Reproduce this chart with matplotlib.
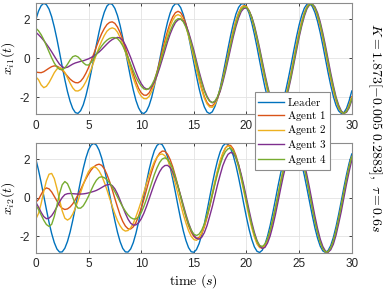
import numpy as np
import matplotlib
matplotlib.use('Agg')
import matplotlib.pyplot as plt

plt.rcParams['font.family'] = ['Liberation Sans', 'DejaVu Sans']
plt.rcParams['mathtext.fontset'] = 'cm'
plt.rcParams['axes.unicode_minus'] = False

# time grid, 0.25 s steps
t = np.arange(0, 30.001, 0.25)

# state 1 (top panel)
leader_x1 = [2.00, 2.43, 2.71, 2.83, 2.76, 2.53, 2.14, 1.61,
             0.99, 0.30, -0.41, -1.09, -1.70, -2.20, -2.57, -2.78,
             -2.82, -2.68, -2.38, -1.92, -1.35, -0.69, 0.01, 0.71,
             1.36, 1.93, 2.38, 2.69, 2.82, 2.78, 2.57, 2.20,
             1.69, 1.07, 0.39, -0.31, -1.00, -1.62, -2.15, -2.53,
             -2.77, -2.83, -2.71, -2.42, -1.99, -1.42, -0.78, -0.09,
             0.61, 1.28, 1.86, 2.33, 2.66, 2.81, 2.80, 2.61,
             2.25, 1.76, 1.16, 0.48, -0.22, -0.91, -1.54, -2.08,
             -2.49, -2.75, -2.83, -2.74, -2.47, -2.06, -1.51, -0.87,
             -0.18, 0.52, 1.19, 1.79, 2.28, 2.62, 2.80, 2.81,
             2.64, 2.31, 1.83, 1.24, 0.58, -0.13, -0.82, -1.47,
             -2.02, -2.45, -2.72, -2.83, -2.76, -2.52, -2.12, -1.59,
             -0.96, -0.28, 0.43, 1.11, 1.72, 2.22, 2.59, 2.79,
             2.82, 2.67, 2.36, 1.90, 1.33, 0.67, -0.03, -0.73,
             -1.38, -1.95, -2.40, -2.69, -2.82, -2.78, -2.56, -2.17,
             -1.67]
agent1_x1 = [-0.70, -0.72, -0.73, -0.68, -0.59, -0.50, -0.42, -0.38,
             -0.40, -0.47, -0.60, -0.75, -0.91, -1.06, -1.17, -1.24,
             -1.25, -1.17, -1.00, -0.76, -0.47, -0.13, 0.24, 0.61,
             0.96, 1.28, 1.54, 1.74, 1.85, 1.88, 1.80, 1.61,
             1.33, 0.96, 0.54, 0.08, -0.38, -0.82, -1.19, -1.53,
             -1.76, -1.88, -1.89, -1.77, -1.52, -1.15, -0.69, -0.18,
             0.37, 0.91, 1.40, 1.82, 2.14, 2.35, 2.42, 2.35,
             2.12, 1.77, 1.30, 0.76, 0.17, -0.44, -1.02, -1.53,
             -1.96, -2.26, -2.42, -2.44, -2.29, -2.01, -1.58, -1.03,
             -0.44, 0.20, 0.83, 1.43, 1.95, 2.34, 2.61, 2.72,
             2.67, 2.45, 2.08, 1.57, 0.98, 0.32, -0.38, -1.04,
             -1.63, -2.14, -2.51, -2.73, -2.78, -2.65, -2.36, -1.92,
             -1.35, -0.71, -0.01, 0.69, 1.34, 1.90, 2.35, 2.66,
             2.81, 2.76, 2.55, 2.18, 1.67, 1.05, 0.37, -0.33,
             -1.02, -1.64, -2.15, -2.53, -2.76, -2.82, -2.70, -2.40,
             -1.96]
agent2_x1 = [-0.95, -1.09, -1.36, -1.50, -1.43, -1.24, -0.99, -0.73,
             -0.54, -0.47, -0.54, -0.72, -0.99, -1.27, -1.51, -1.66,
             -1.67, -1.60, -1.43, -1.19, -0.89, -0.55, -0.17, 0.21,
             0.58, 0.90, 1.18, 1.40, 1.52, 1.57, 1.52, 1.35,
             1.08, 0.73, 0.33, -0.12, -0.57, -1.01, -1.39, -1.72,
             -1.94, -2.06, -2.07, -1.95, -1.69, -1.33, -0.86, -0.36,
             0.19, 0.73, 1.23, 1.65, 1.97, 2.18, 2.25, 2.18,
             1.96, 1.62, 1.16, 0.62, 0.04, -0.55, -1.12, -1.62,
             -2.04, -2.33, -2.49, -2.51, -2.36, -2.07, -1.64, -1.09,
             -0.49, 0.15, 0.79, 1.40, 1.92, 2.31, 2.59, 2.70,
             2.65, 2.43, 2.06, 1.55, 0.96, 0.31, -0.39, -1.04,
             -1.63, -2.14, -2.51, -2.73, -2.79, -2.67, -2.38, -1.95,
             -1.38, -0.74, -0.04, 0.66, 1.31, 1.88, 2.33, 2.65,
             2.80, 2.77, 2.57, 2.21, 1.70, 1.09, 0.41, -0.29,
             -0.98, -1.61, -2.12, -2.51, -2.75, -2.82, -2.72, -2.43,
             -2.00]
agent3_x1 = [1.34, 1.22, 1.08, 0.92, 0.74, 0.55, 0.34, 0.12,
             -0.10, -0.30, -0.43, -0.48, -0.45, -0.37, -0.29, -0.23,
             -0.19, -0.15, -0.12, -0.07, -0.02, 0.05, 0.13, 0.22,
             0.33, 0.46, 0.60, 0.74, 0.87, 0.97, 1.04, 1.08,
             1.05, 0.92, 0.69, 0.38, 0.05, -0.32, -0.69, -1.02,
             -1.29, -1.48, -1.57, -1.56, -1.44, -1.21, -0.88, -0.49,
             -0.05, 0.40, 0.85, 1.25, 1.58, 1.84, 1.98, 2.02,
             1.92, 1.70, 1.35, 0.90, 0.42, -0.13, -0.67, -1.16,
             -1.61, -1.94, -2.17, -2.27, -2.22, -2.02, -1.69, -1.22,
             -0.68, -0.08, 0.53, 1.12, 1.64, 2.08, 2.41, 2.57,
             2.59, 2.44, 2.14, 1.70, 1.13, 0.52, -0.14, -0.80,
             -1.41, -1.95, -2.35, -2.63, -2.75, -2.69, -2.47, -2.09,
             -1.57, -0.96, -0.28, 0.41, 1.09, 1.68, 2.18, 2.56,
             2.76, 2.79, 2.65, 2.34, 1.88, 1.30, 0.65, -0.05,
             -0.75, -1.39, -1.97, -2.39, -2.69, -2.82, -2.76, -2.54,
             -2.15]
agent4_x1 = [1.55, 1.42, 1.22, 0.96, 0.66, 0.34, 0.03, -0.24,
             -0.44, -0.56, -0.58, -0.49, -0.30, -0.08, 0.09, 0.14,
             0.08, -0.06, -0.22, -0.33, -0.34, -0.20, 0.00, 0.22,
             0.44, 0.64, 0.81, 0.94, 1.03, 1.07, 1.07, 1.02,
             0.87, 0.65, 0.36, 0.05, -0.29, -0.64, -0.95, -1.21,
             -1.42, -1.56, -1.60, -1.54, -1.37, -1.10, -0.73, -0.33,
             0.13, 0.59, 1.02, 1.40, 1.72, 1.94, 2.04, 2.03,
             1.88, 1.61, 1.24, 0.77, 0.27, -0.27, -0.80, -1.27,
             -1.68, -2.00, -2.20, -2.27, -2.19, -1.96, -1.60, -1.10,
             -0.55, 0.07, 0.69, 1.27, 1.78, 2.21, 2.50, 2.64,
             2.62, 2.44, 2.10, 1.63, 1.05, 0.42, -0.26, -0.92,
             -1.50, -2.02, -2.42, -2.68, -2.76, -2.67, -2.42, -2.01,
             -1.46, -0.84, -0.15, 0.55, 1.20, 1.77, 2.27, 2.61,
             2.78, 2.78, 2.60, 2.26, 1.78, 1.17, 0.51, -0.20,
             -0.89, -1.50, -2.04, -2.47, -2.73, -2.82, -2.73, -2.48,
             -2.06]

# state 2 (bottom panel)
leader_x2 = [2.00, 1.44, 0.80, 0.10, -0.60, -1.27, -1.85, -2.32,
             -2.65, -2.81, -2.80, -2.61, -2.26, -1.77, -1.17, -0.50,
             0.21, 0.90, 1.53, 2.07, 2.49, 2.74, 2.83, 2.74,
             2.48, 2.07, 1.52, 0.89, 0.19, -0.51, -1.18, -1.78,
             -2.27, -2.62, -2.80, -2.81, -2.65, -2.32, -1.84, -1.26,
             -0.59, 0.12, 0.81, 1.46, 2.01, 2.45, 2.72, 2.83,
             2.76, 2.52, 2.13, 1.60, 0.97, 0.29, -0.42, -1.10,
             -1.71, -2.21, -2.58, -2.79, -2.82, -2.68, -2.37, -1.91,
             -1.34, -0.68, 0.02, 0.72, 1.37, 1.94, 2.39, 2.69,
             2.82, 2.78, 2.56, 2.19, 1.68, 1.06, 0.38, -0.33,
             -1.01, -1.63, -2.15, -2.54, -2.77, -2.83, -2.71, -2.42,
             -1.98, -1.42, -0.77, -0.08, 0.63, 1.29, 1.88, 2.34,
             2.66, 2.81, 2.80, 2.60, 2.25, 1.75, 1.15, 0.47,
             -0.23, -0.92, -1.56, -2.09, -2.50, -2.75, -2.83, -2.73,
             -2.47, -2.05, -1.50, -0.86, -0.17, 0.54, 1.21, 1.81,
             2.28]
agent1_x2 = [-0.22, -0.08, 0.18, 0.42, 0.52, 0.47, 0.31, 0.08,
             -0.16, -0.39, -0.54, -0.60, -0.57, -0.47, -0.31, -0.09,
             0.16, 0.43, 0.72, 0.99, 1.24, 1.45, 1.61, 1.71,
             1.75, 1.69, 1.51, 1.22, 0.85, 0.43, -0.03, -0.47,
             -0.89, -1.22, -1.46, -1.60, -1.61, -1.50, -1.28, -0.95,
             -0.54, -0.09, 0.41, 0.91, 1.36, 1.77, 2.10, 2.32,
             2.43, 2.42, 2.27, 1.99, 1.61, 1.13, 0.61, 0.06,
             -0.49, -1.00, -1.44, -1.77, -2.00, -2.10, -2.05, -1.85,
             -1.50, -1.03, -0.48, 0.14, 0.76, 1.35, 1.85, 2.30,
             2.59, 2.74, 2.72, 2.54, 2.20, 1.72, 1.13, 0.48,
             -0.18, -0.85, -1.44, -1.94, -2.31, -2.53, -2.58, -2.46,
             -2.18, -1.75, -1.17, -0.57, 0.11, 0.79, 1.41, 1.97,
             2.38, 2.68, 2.80, 2.74, 2.51, 2.10, 1.56, 0.92,
             0.21, -0.51, -1.20, -1.78, -2.30, -2.64, -2.80, -2.79,
             -2.59, -2.23, -1.72, -1.10, -0.42, 0.29, 0.99, 1.62,
             2.15]
agent2_x2 = [-1.09, -0.81, -0.29, 0.34, 0.89, 1.23, 1.27, 1.00,
             0.49, -0.11, -0.67, -1.05, -1.15, -1.06, -0.84, -0.52,
             -0.15, 0.28, 0.69, 1.06, 1.37, 1.55, 1.62, 1.56,
             1.40, 1.15, 0.81, 0.42, -0.01, -0.43, -0.83, -1.18,
             -1.45, -1.64, -1.72, -1.69, -1.55, -1.32, -0.98, -0.60,
             -0.18, 0.28, 0.74, 1.17, 1.54, 1.88, 2.11, 2.25,
             2.28, 2.19, 1.98, 1.64, 1.22, 0.73, 0.20, -0.34,
             -0.86, -1.30, -1.70, -1.99, -2.16, -2.20, -2.09, -1.83,
             -1.44, -0.92, -0.37, 0.25, 0.87, 1.43, 1.95, 2.32,
             2.59, 2.70, 2.65, 2.43, 2.07, 1.57, 0.98, 0.33,
             -0.33, -0.98, -1.55, -2.03, -2.39, -2.58, -2.61, -2.47,
             -2.16, -1.71, -1.12, -0.48, 0.20, 0.88, 1.52, 2.04,
             2.45, 2.71, 2.80, 2.75, 2.53, 2.13, 1.60, 0.96,
             0.26, -0.46, -1.15, -1.74, -2.26, -2.62, -2.79, -2.80,
             -2.62, -2.27, -1.77, -1.15, -0.47, 0.24, 0.94, 1.58,
             2.12]
agent3_x2 = [-0.23, -0.48, -0.75, -0.97, -1.08, -1.05, -0.92, -0.71,
             -0.46, -0.20, 0.02, 0.17, 0.22, 0.23, 0.22, 0.21,
             0.20, 0.20, 0.21, 0.23, 0.26, 0.30, 0.34, 0.39,
             0.46, 0.54, 0.62, 0.68, 0.70, 0.64, 0.47, 0.21,
             -0.12, -0.47, -0.80, -1.10, -1.31, -1.41, -1.40, -1.29,
             -1.09, -0.80, -0.45, -0.06, 0.34, 0.73, 1.07, 1.36,
             1.57, 1.68, 1.69, 1.58, 1.34, 1.00, 0.59, 0.12,
             -0.37, -0.86, -1.30, -1.66, -1.94, -2.10, -2.14, -2.04,
             -1.80, -1.44, -0.96, -0.46, 0.11, 0.68, 1.19, 1.67,
             2.01, 2.26, 2.36, 2.31, 2.09, 1.72, 1.22, 0.64,
             0.00, -0.65, -1.26, -1.79, -2.21, -2.50, -2.62, -2.57,
             -2.34, -1.97, -1.46, -0.86, -0.19, 0.49, 1.14, 1.71,
             2.20, 2.56, 2.75, 2.76, 2.60, 2.26, 1.77, 1.16,
             0.48, -0.24, -0.95, -1.59, -2.13, -2.52, -2.76, -2.82,
             -2.69, -2.40, -1.94, -1.34, -0.71, 0.01, 0.72, 1.37,
             1.96]
agent4_x2 = [-0.38, -0.60, -0.88, -1.16, -1.38, -1.48, -1.37, -0.96,
             -0.38, 0.23, 0.68, 0.85, 0.74, 0.43, 0.03, -0.33,
             -0.53, -0.53, -0.41, -0.18, 0.09, 0.40, 0.69, 0.92,
             1.06, 1.10, 1.05, 0.94, 0.78, 0.57, 0.32, 0.05,
             -0.22, -0.47, -0.69, -0.88, -1.02, -1.09, -1.09, -0.98,
             -0.77, -0.45, -0.07, 0.36, 0.79, 1.21, 1.56, 1.84,
             2.02, 2.08, 2.01, 1.81, 1.49, 1.07, 0.59, 0.07,
             -0.46, -0.94, -1.36, -1.68, -1.88, -1.95, -1.88, -1.67,
             -1.35, -0.91, -0.41, 0.15, 0.71, 1.25, 1.72, 2.13,
             2.40, 2.55, 2.57, 2.42, 2.11, 1.66, 1.10, 0.48,
             -0.17, -0.82, -1.40, -1.89, -2.25, -2.46, -2.52, -2.40,
             -2.12, -1.70, -1.13, -0.54, 0.13, 0.80, 1.41, 1.96,
             2.37, 2.66, 2.78, 2.73, 2.50, 2.09, 1.55, 0.91,
             0.20, -0.52, -1.21, -1.80, -2.30, -2.64, -2.80, -2.79,
             -2.60, -2.24, -1.73, -1.11, -0.43, 0.28, 0.98, 1.61,
             2.14]

names = ['Leader', 'Agent 1', 'Agent 2', 'Agent 3', 'Agent 4']
colors = ['#0072BD', '#D95319', '#EDB120', '#7E2F8E', '#77AC30']
xticks = [0, 5, 10, 15, 20, 25, 30]
yticks = [-2, 0, 2]

top = [leader_x1, agent1_x1, agent2_x1, agent3_x1, agent4_x1]
bottom = [leader_x2, agent1_x2, agent2_x2, agent3_x2, agent4_x2]

fig = plt.figure(figsize=(3.9, 2.93), dpi=100)
ax1 = fig.add_axes([0.092, 0.611, 0.810, 0.379])
ax2 = fig.add_axes([0.092, 0.137, 0.810, 0.375])

for ax, series, ylab in [(ax1, top, r'$x_{i1}(t)$'), (ax2, bottom, r'$x_{i2}(t)$')]:
    lines = []
    for y, c in zip(series, colors):
        ln, = ax.plot(t, y, '-', color=c, lw=1.0)
        lines.append(ln)
    ax.set_xlim(0, 30)
    ax.set_ylim(-2.85, 2.85)
    ax.set_xticks(xticks)
    ax.set_yticks(yticks)
    ax.grid(True, color='#e3e3e3', lw=0.6)
    ax.set_axisbelow(True)
    ax.tick_params(direction='in', length=2.5, width=0.6, top=True, right=True,
                   labelsize=8.5, colors='#262626', pad=4)
    for s in ax.spines.values():
        s.set_color('#8c8c8c')
        s.set_linewidth(0.8)
    ax.set_ylabel(ylab, fontsize=10, labelpad=2)

# the "25" under the legend is hidden in the original anyway
ax1.set_xticklabels(['0', '5', '10', '15', '20', '', '30'])

ax2.set_xlabel(r'$\mathrm{time}\ (s)$', fontsize=10, labelpad=1)

fig.text(0.962, 0.563, r'$K=1.873[-0.005\ 0.2883],\ \tau=0.6s$',
         rotation=270, ha='center', va='center', fontsize=10)

leg = fig.legend(lines, [r'$\mathrm{' + n.replace(' ', r'\ ') + '}$' for n in names],
                 loc='upper left', bbox_to_anchor=(0.654, 0.686), fontsize=8,
                 fancybox=False, framealpha=1, edgecolor='#8c8c8c',
                 labelspacing=0.05, handlelength=2.3, handletextpad=0.3,
                 borderpad=0.3, borderaxespad=0)
leg.get_frame().set_linewidth(0.8)

fig.savefig('out.png', dpi=100)
